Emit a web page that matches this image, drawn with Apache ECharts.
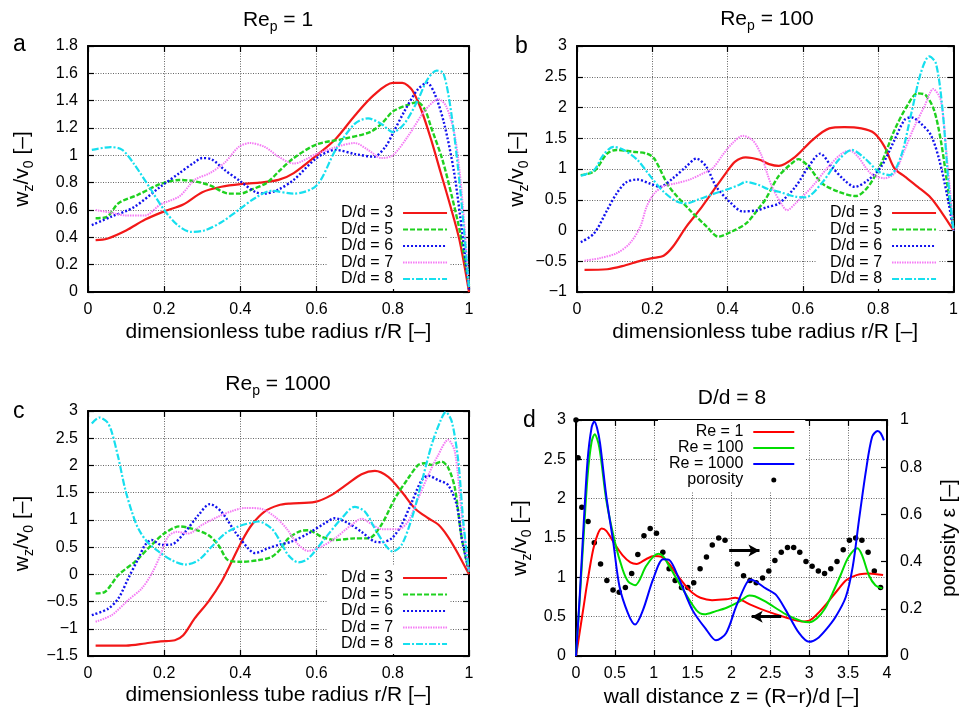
<!DOCTYPE html>
<html>
<head>
<meta charset="utf-8">
<script src="https://cdn.jsdelivr.net/npm/echarts@6/dist/echarts.min.js"></script>
<style>
  html, body { margin: 0; padding: 0; background: #fff; }
  #chart { width: 961px; height: 712px; }
</style>
</head>
<body>
<div id="chart"></div>
<script>
// ---- data: [x, value] ----
// panel a, Re_p = 1
const a3 = [[0.02,0.38],[0.05,0.39],[0.1,0.45],[0.15,0.53],[0.2,0.59],[0.25,0.64],[0.3,0.73],[0.35,0.77],[0.4,0.79],[0.45,0.8],[0.5,0.82],[0.54,0.87],[0.6,1.0],[0.65,1.12],[0.7,1.29],[0.75,1.44],[0.8,1.53],[0.825,1.53],[0.85,1.48],[0.875,1.33],[0.9,1.12],[0.925,0.88],[0.95,0.64],[0.975,0.38],[1.0,0.0]];
const a5 = [[0.02,0.54],[0.05,0.55],[0.08,0.65],[0.13,0.71],[0.19,0.79],[0.24,0.82],[0.28,0.81],[0.32,0.78],[0.37,0.72],[0.4,0.72],[0.43,0.75],[0.47,0.8],[0.5,0.88],[0.54,0.98],[0.6,1.08],[0.67,1.12],[0.74,1.17],[0.77,1.23],[0.8,1.32],[0.84,1.37],[0.865,1.39],[0.885,1.33],[0.9,1.21],[0.93,0.97],[0.955,0.7],[0.977,0.43],[1.0,0.05]];
const a6 = [[0.01,0.49],[0.06,0.55],[0.12,0.62],[0.19,0.77],[0.24,0.87],[0.28,0.95],[0.3,0.98],[0.325,0.97],[0.36,0.89],[0.4,0.81],[0.44,0.73],[0.465,0.72],[0.5,0.75],[0.54,0.82],[0.6,0.98],[0.65,1.04],[0.7,1.01],[0.75,0.99],[0.78,1.06],[0.8,1.16],[0.83,1.32],[0.865,1.48],[0.89,1.53],[0.91,1.45],[0.935,1.23],[0.96,0.89],[0.977,0.55],[1.0,0.02]];
const a7 = [[0.02,0.6],[0.06,0.58],[0.1,0.56],[0.15,0.56],[0.19,0.64],[0.24,0.7],[0.28,0.82],[0.32,0.87],[0.36,0.95],[0.395,1.06],[0.425,1.09],[0.465,1.06],[0.5,0.99],[0.54,0.94],[0.6,1.01],[0.65,1.06],[0.7,1.09],[0.735,1.04],[0.77,0.98],[0.8,1.0],[0.84,1.14],[0.885,1.33],[0.92,1.41],[0.94,1.36],[0.963,1.14],[0.98,0.75],[1.0,0.05]];
const a8 = [[0.01,1.04],[0.06,1.06],[0.09,1.04],[0.12,0.94],[0.165,0.75],[0.2,0.6],[0.235,0.49],[0.27,0.44],[0.305,0.45],[0.35,0.51],[0.395,0.6],[0.44,0.69],[0.48,0.74],[0.54,0.72],[0.6,0.78],[0.65,1.04],[0.7,1.23],[0.735,1.27],[0.77,1.23],[0.8,1.17],[0.83,1.23],[0.865,1.4],[0.89,1.55],[0.915,1.62],[0.933,1.6],[0.955,1.28],[0.977,0.75],[1.0,0.03]];

// panel b, Re_p = 100
const b3 = [[0.02,-0.64],[0.08,-0.63],[0.12,-0.58],[0.17,-0.49],[0.2,-0.45],[0.23,-0.41],[0.255,-0.26],[0.29,0.06],[0.325,0.33],[0.36,0.63],[0.395,0.93],[0.42,1.12],[0.448,1.19],[0.485,1.15],[0.51,1.08],[0.536,1.05],[0.58,1.2],[0.625,1.47],[0.67,1.66],[0.71,1.68],[0.755,1.66],[0.79,1.58],[0.817,1.36],[0.843,1.01],[0.87,0.88],[0.905,0.71],[0.94,0.53],[0.97,0.28],[1.0,0.0]];
const b5 = [[0.01,0.9],[0.045,0.96],[0.08,1.25],[0.105,1.31],[0.15,1.28],[0.185,1.25],[0.205,1.17],[0.245,0.71],[0.3,0.33],[0.345,0.06],[0.375,-0.1],[0.41,-0.02],[0.45,0.12],[0.485,0.38],[0.5,0.5],[0.535,0.88],[0.57,1.09],[0.588,1.16],[0.615,1.04],[0.65,0.77],[0.695,0.63],[0.74,0.56],[0.773,0.71],[0.808,1.09],[0.843,1.63],[0.878,2.04],[0.904,2.23],[0.926,2.2],[0.948,1.96],[0.966,1.47],[0.983,0.77],[1.0,0.0]];
const b6 = [[0.01,-0.19],[0.045,-0.05],[0.08,0.33],[0.105,0.6],[0.13,0.78],[0.16,0.83],[0.195,0.76],[0.22,0.71],[0.255,0.85],[0.29,1.04],[0.317,1.17],[0.343,1.04],[0.37,0.71],[0.405,0.47],[0.44,0.31],[0.48,0.33],[0.505,0.38],[0.536,0.44],[0.58,0.71],[0.615,1.04],[0.646,1.25],[0.676,1.04],[0.71,0.82],[0.738,0.71],[0.773,0.82],[0.808,1.04],[0.843,1.47],[0.87,1.8],[0.888,1.84],[0.913,1.74],[0.94,1.55],[0.962,1.15],[0.982,0.6],[1.0,0.0]];
const b7 = [[0.02,-0.49],[0.06,-0.45],[0.105,-0.37],[0.14,-0.21],[0.168,0.06],[0.185,0.39],[0.205,0.6],[0.23,0.72],[0.265,0.77],[0.3,0.83],[0.335,0.93],[0.36,1.01],[0.387,1.23],[0.413,1.42],[0.44,1.54],[0.466,1.47],[0.488,1.25],[0.505,0.93],[0.518,0.71],[0.545,0.41],[0.558,0.33],[0.58,0.44],[0.624,0.71],[0.668,1.04],[0.703,1.25],[0.725,1.3],[0.746,1.2],[0.78,0.93],[0.817,0.85],[0.843,0.93],[0.87,1.31],[0.896,1.69],[0.922,2.01],[0.946,2.3],[0.966,2.12],[0.983,1.15],[1.0,0.0]];
const b8 = [[0.01,0.89],[0.045,0.98],[0.07,1.23],[0.097,1.36],[0.124,1.31],[0.16,1.15],[0.195,0.88],[0.23,0.63],[0.265,0.47],[0.29,0.44],[0.325,0.51],[0.36,0.59],[0.395,0.66],[0.43,0.74],[0.448,0.79],[0.483,0.74],[0.505,0.68],[0.536,0.63],[0.58,0.55],[0.607,0.54],[0.65,0.77],[0.695,1.15],[0.73,1.31],[0.765,1.17],[0.8,0.96],[0.83,0.9],[0.86,1.2],[0.888,1.91],[0.913,2.56],[0.935,2.83],[0.953,2.72],[0.97,2.01],[0.988,0.66],[1.0,0.0]];

// panel c, Re_p = 1000
const c3 = [[0.02,-1.31],[0.1,-1.31],[0.15,-1.27],[0.19,-1.23],[0.228,-1.21],[0.25,-1.12],[0.28,-0.81],[0.316,-0.5],[0.35,-0.14],[0.377,0.23],[0.403,0.6],[0.43,0.91],[0.465,1.16],[0.5,1.27],[0.53,1.3],[0.596,1.33],[0.64,1.46],[0.683,1.67],[0.718,1.84],[0.753,1.9],[0.788,1.79],[0.823,1.52],[0.858,1.21],[0.893,1.03],[0.92,0.91],[0.945,0.69],[0.968,0.42],[1.0,0.0]];
const c5 = [[0.02,-0.35],[0.045,-0.32],[0.08,-0.01],[0.123,0.23],[0.167,0.54],[0.2,0.75],[0.24,0.88],[0.272,0.84],[0.316,0.72],[0.342,0.54],[0.368,0.26],[0.403,0.23],[0.447,0.26],[0.482,0.32],[0.505,0.46],[0.526,0.66],[0.56,0.8],[0.578,0.81],[0.613,0.69],[0.648,0.63],[0.7,0.66],[0.736,0.66],[0.77,0.91],[0.806,1.4],[0.84,1.76],[0.867,2.01],[0.884,2.04],[0.902,2.01],[0.928,2.07],[0.946,1.95],[0.963,1.58],[0.981,0.66],[1.0,0.05]];
const c6 = [[0.01,-0.75],[0.053,-0.63],[0.08,-0.44],[0.106,-0.07],[0.132,0.29],[0.15,0.54],[0.167,0.63],[0.193,0.54],[0.22,0.55],[0.255,0.78],[0.29,1.09],[0.32,1.29],[0.35,1.15],[0.386,0.78],[0.42,0.48],[0.438,0.39],[0.473,0.48],[0.505,0.55],[0.534,0.6],[0.578,0.75],[0.622,0.94],[0.648,1.03],[0.683,0.94],[0.718,0.78],[0.753,0.6],[0.77,0.59],[0.797,0.66],[0.823,0.91],[0.85,1.33],[0.876,1.73],[0.893,1.81],[0.919,1.73],[0.945,1.64],[0.968,1.27],[0.981,0.66],[1.0,0.05]];
const c7 = [[0.02,-0.87],[0.062,-0.75],[0.106,-0.47],[0.141,-0.26],[0.167,0.01],[0.19,0.35],[0.21,0.69],[0.233,0.78],[0.263,0.75],[0.3,0.91],[0.342,1.06],[0.377,1.16],[0.412,1.22],[0.456,1.2],[0.49,1.06],[0.52,0.85],[0.55,0.56],[0.578,0.43],[0.613,0.51],[0.648,0.66],[0.692,0.91],[0.718,1.02],[0.745,0.92],[0.771,0.83],[0.815,0.83],[0.84,0.97],[0.867,1.4],[0.893,1.82],[0.919,2.19],[0.945,2.47],[0.963,2.25],[0.981,1.09],[1.0,0.05]];
const c8 = [[0.01,2.77],[0.03,2.88],[0.05,2.8],[0.062,2.62],[0.08,2.13],[0.097,1.58],[0.115,1.15],[0.132,0.84],[0.155,0.6],[0.185,0.42],[0.22,0.26],[0.255,0.18],[0.29,0.26],[0.325,0.51],[0.36,0.75],[0.395,0.88],[0.43,0.95],[0.447,0.97],[0.482,0.84],[0.505,0.6],[0.526,0.35],[0.552,0.22],[0.578,0.29],[0.622,0.66],[0.666,1.03],[0.7,1.24],[0.727,1.15],[0.753,0.84],[0.78,0.54],[0.8,0.42],[0.823,0.54],[0.85,1.03],[0.876,1.7],[0.902,2.38],[0.924,2.8],[0.939,2.98],[0.955,2.8],[0.972,2.07],[0.985,0.97],[1.0,0.05]];

// panel d, D/d = 8 (x = wall distance z)
const dRe1 = [[0,0],[0.05,0.32],[0.1,0.64],[0.14,0.9],[0.22,1.35],[0.28,1.55],[0.33,1.62],[0.39,1.59],[0.5,1.42],[0.6,1.28],[0.7,1.19],[0.78,1.17],[0.9,1.23],[1.0,1.27],[1.1,1.26],[1.2,1.17],[1.3,1.03],[1.42,0.88],[1.5,0.8],[1.6,0.74],[1.75,0.71],[1.93,0.72],[2.05,0.74],[2.15,0.7],[2.25,0.65],[2.45,0.57],[2.7,0.49],[2.9,0.44],[3.0,0.45],[3.1,0.53],[3.21,0.65],[3.35,0.82],[3.47,0.96],[3.56,1.01],[3.65,1.04],[3.77,1.05],[3.95,1.03]];
const dRe100 = [[0,0],[0.05,0.75],[0.1,1.55],[0.15,2.3],[0.2,2.72],[0.24,2.82],[0.3,2.65],[0.39,1.98],[0.5,1.45],[0.6,1.1],[0.67,0.95],[0.76,0.9],[0.9,1.14],[1.0,1.27],[1.06,1.3],[1.12,1.27],[1.2,1.14],[1.38,0.84],[1.55,0.58],[1.65,0.53],[1.8,0.57],[1.93,0.61],[2.1,0.69],[2.23,0.77],[2.3,0.76],[2.44,0.69],[2.7,0.53],[2.91,0.44],[3.0,0.43],[3.1,0.48],[3.2,0.6],[3.3,0.8],[3.4,1.02],[3.5,1.25],[3.62,1.37],[3.68,1.28],[3.77,1.02],[3.85,0.9],[3.94,0.86]];
const dRe1000 = [[0,0],[0.05,0.8],[0.1,1.7],[0.15,2.5],[0.2,2.9],[0.235,2.98],[0.27,2.9],[0.31,2.7],[0.39,2.03],[0.48,1.44],[0.56,0.88],[0.67,0.54],[0.76,0.4],[0.86,0.58],[0.99,0.97],[1.12,1.23],[1.2,1.22],[1.33,0.97],[1.5,0.58],[1.68,0.33],[1.8,0.2],[1.93,0.29],[2.06,0.63],[2.19,0.92],[2.25,0.97],[2.44,0.86],[2.57,0.78],[2.7,0.58],[2.87,0.29],[3.0,0.18],[3.1,0.22],[3.21,0.33],[3.34,0.5],[3.47,0.75],[3.56,1.14],[3.64,1.73],[3.73,2.36],[3.81,2.79],[3.88,2.86],[3.92,2.83],[3.96,2.74]];
const porosity = [[0,1.0],[0.026,0.84],[0.075,0.63],[0.155,0.57],[0.235,0.48],[0.316,0.39],[0.397,0.32],[0.476,0.28],[0.556,0.27],[0.635,0.29],[0.716,0.35],[0.795,0.43],[0.874,0.51],[0.954,0.54],[1.035,0.52],[1.117,0.44],[1.197,0.37],[1.275,0.32],[1.357,0.29],[1.438,0.29],[1.514,0.31],[1.596,0.37],[1.678,0.42],[1.753,0.47],[1.835,0.5],[1.917,0.49],[2.075,0.39],[2.155,0.34],[2.238,0.32],[2.318,0.31],[2.4,0.33],[2.48,0.36],[2.558,0.405],[2.64,0.44],[2.72,0.46],[2.8,0.46],[2.878,0.44],[2.958,0.4],[3.037,0.38],[3.117,0.36],[3.197,0.35],[3.277,0.37],[3.357,0.4],[3.437,0.45],[3.517,0.49],[3.597,0.5],[3.677,0.49],[3.757,0.44],[3.837,0.36],[3.917,0.29]];
// the two arrows in panel d (left axis units)
const arrowLines = [[[1.97, 1.34], [2.36, 1.34]], [[2.64, 0.5], [2.26, 0.5]]];

const ddNames = ['D/d = 3', 'D/d = 5', 'D/d = 6', 'D/d = 7', 'D/d = 8'];
const reNames = ['Re = 1', 'Re = 100', 'Re = 1000', 'porosity'];

const FONT = '"Liberation Sans", Arial, Helvetica, sans-serif';

const ddStyles = [
  {color: '#f21818', width: 2.2, type: 'solid'},
  {color: '#1fd11f', width: 2.4, type: [5, 2]},
  {color: '#1212ee', width: 2.4, type: [2, 2]},
  {color: '#f57af5', width: 2, type: [1.5, 1]},
  {color: '#16dfee', width: 2.2, type: [7, 2, 2, 2]}
];
const reColors = ['#ff0000', '#00dd00', '#0000ff'];

const grids = [
  {left: 88, top: 46, width: 381, height: 246},
  {left: 577, top: 46, width: 380, height: 246},
  {left: 88, top: 411, width: 381, height: 245},
  {left: 576, top: 420, width: 312, height: 236}
];

const gridLine = {color: '#666', type: [1, 1.5], width: 1};
const black = '#000';
const sub = {
  i: {fontSize: 21, fontFamily: FONT, color: black},
  s: {fontSize: 14, fontFamily: FONT, color: black, padding: [14, 0, 0, 0]}
};
const yName = '{i|w}{s|z}{i|/v}{s|0}{i| [\u2013]}';

function fmt(v) {
  return String(v).replace('-', '\u2212');
}

function axisBase(g, range, pos) {
  return Object.assign({
    type: 'value', gridIndex: g, position: pos,
    axisLine: {show: true, onZero: false, lineStyle: {color: black, width: 2}},
    axisTick: {show: true, inside: true, length: 6, lineStyle: {color: black, width: 1.2}},
    axisLabel: {show: false},
    splitLine: {show: false}
  }, range);
}

function mainAxis(g, range, pos, name, gap) {
  const ax = axisBase(g, range, pos);
  ax.axisLabel = {show: true, color: black, fontSize: 16, fontFamily: FONT, margin: 10, formatter: fmt};
  ax.splitLine = {show: true, lineStyle: gridLine};
  ax.name = name;
  ax.nameLocation = 'middle';
  ax.nameGap = gap;
  ax.nameTextStyle = {fontSize: 21, fontFamily: FONT, color: black, rich: sub};
  if (pos === 'left' || pos === 'right') ax.nameRotate = 90;
  return ax;
}

const rR = {min: 0, max: 1, interval: 0.2};
const rD = {min: 0, max: 4, interval: 0.5};
const yA = {min: 0, max: 1.8, interval: 0.2};
const yB = {min: -1, max: 3, interval: 0.5};
const yC = {min: -1.5, max: 3, interval: 0.5};
const yD = {min: 0, max: 3, interval: 0.5};
const yEps = {min: 0, max: 1, interval: 0.2};

const xName = 'dimensionless tube radius r/R [\u2013]';

const xAxis = [
  mainAxis(0, rR, 'bottom', xName, 30), axisBase(0, rR, 'top'),
  mainAxis(1, rR, 'bottom', xName, 30), axisBase(1, rR, 'top'),
  mainAxis(2, rR, 'bottom', xName, 29), axisBase(2, rR, 'top'),
  mainAxis(3, rD, 'bottom', 'wall distance z = (R\u2212r)/d [\u2013]', 31), axisBase(3, rD, 'top')
];
const epsAxis = mainAxis(3, yEps, 'right', 'porosity \u03b5 [\u2013]', 52);
epsAxis.splitLine = {show: false};
epsAxis.axisLabel.margin = 13;
const yAxis = [
  mainAxis(0, yA, 'left', yName, 52), axisBase(0, yA, 'right'),
  mainAxis(1, yB, 'left', yName, 42), axisBase(1, yB, 'right'),
  mainAxis(2, yC, 'left', yName, 52), axisBase(2, yC, 'right'),
  mainAxis(3, yD, 'left', yName, 42), epsAxis
];

const series = [];
[[a3, a5, a6, a7, a8], [b3, b5, b6, b7, b8], [c3, c5, c6, c7, c8]].forEach(function (set, g) {
  set.forEach(function (data, k) {
    series.push({
      type: 'line', name: ddNames[k], data: data,
      xAxisIndex: 2 * g, yAxisIndex: 2 * g,
      symbol: 'none', smooth: 0.3,
      itemStyle: {color: ddStyles[k].color},
      lineStyle: ddStyles[k]
    });
  });
});
[dRe1, dRe100, dRe1000].forEach(function (data, k) {
  series.push({
    type: 'line', name: reNames[k], data: data,
    xAxisIndex: 6, yAxisIndex: 6,
    symbol: 'none', smooth: 0.3,
    itemStyle: {color: reColors[k]},
    lineStyle: {color: reColors[k], width: 2}
  });
});
series.push({
  type: 'scatter', name: reNames[3], data: porosity,
  xAxisIndex: 6, yAxisIndex: 7,
  symbol: 'circle', symbolSize: 5.5,
  itemStyle: {color: black, opacity: 1}
});
// arrows drawn as a mark line on the Re = 1 curve
series[15].markLine = {
  silent: true, symbol: ['none', 'arrow'], symbolSize: [9, 11],
  label: {show: false},
  lineStyle: {color: black, width: 3, type: 'solid'},
  data: arrowLines.map(function (p) { return [{coord: p[0]}, {coord: p[1]}]; })
};

// legend: line samples only (the marker dot is hidden), white box under the curves
function legendAt(left, top, names, w, iconW, itemH, gap, pad) {
  return {
    left: left, top: top, orient: 'vertical', align: 'right', z: 1,
    data: names.map(function (n) {
      return n === 'porosity' ? {name: n, itemStyle: {opacity: 1}} : {name: n};
    }),
    itemWidth: iconW, itemHeight: itemH, itemGap: gap,
    itemStyle: {opacity: 0},
    padding: pad, backgroundColor: '#fff', selectedMode: false,
    textStyle: {fontSize: 16, fontFamily: FONT, color: black, width: w, padding: [0, 5, 0, 0]}
  };
}

const option = {
  animation: false,
  backgroundColor: '#fff',
  grid: grids,
  xAxis: xAxis,
  yAxis: yAxis,
  legend: [
    legendAt(327, 201, ddNames, 54, 44, 10, 0.5, [4, 2, 2, 14]),
    legendAt(816, 201, ddNames, 54, 44, 10, 0.5, [4, 2, 2, 14]),
    legendAt(327, 566, ddNames, 54, 44, 10, 0.5, [4, 2, 2, 14]),
    legendAt(658, 420, reNames, 75, 41, 5, 0, [4, 10, 4, 11])
  ],
  graphic: [
    {type: 'text', x: 278, y: 6, style: {text: '{i|Re}{s|p}{i| = 1}', rich: sub, align: 'center', verticalAlign: 'top'}},
    {type: 'text', x: 767, y: 5, style: {text: '{i|Re}{s|p}{i| = 100}', rich: sub, align: 'center', verticalAlign: 'top'}},
    {type: 'text', x: 278, y: 370, style: {text: '{i|Re}{s|p}{i| = 1000}', rich: sub, align: 'center', verticalAlign: 'top'}},
    {type: 'text', x: 732, y: 388, style: {text: 'D/d = 8', font: '21px ' + FONT, fill: black, align: 'center', verticalAlign: 'top'}},
    {type: 'text', x: 13, y: 33, style: {text: 'a', font: '23px ' + FONT, fill: black}},
    {type: 'text', x: 515, y: 35, style: {text: 'b', font: '23px ' + FONT, fill: black}},
    {type: 'text', x: 13, y: 400, style: {text: 'c', font: '23px ' + FONT, fill: black}},
    {type: 'text', x: 523, y: 409, style: {text: 'd', font: '23px ' + FONT, fill: black}}
  ],
  series: series
};

const chart = echarts.init(document.getElementById('chart'));
chart.setOption(option);
</script>
</body>
</html>
